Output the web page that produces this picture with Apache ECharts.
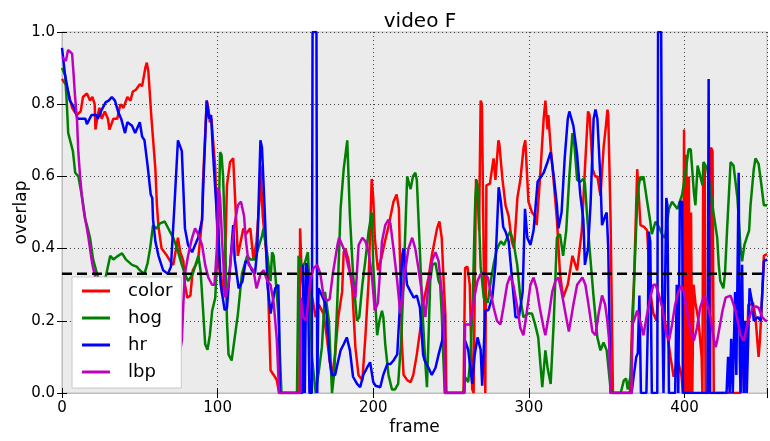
<!DOCTYPE html>
<html>
<head>
<meta charset="utf-8">
<script src="https://cdn.jsdelivr.net/npm/echarts@6/dist/echarts.min.js"></script>
<style>
html,body{margin:0;padding:0;background:#fff;overflow:hidden;}
#c{width:770px;height:441px;}
</style>
</head>
<body>
<div id="c"></div>
<script>
const seriesNames = ['color', 'hog', 'hr', 'lbp'];
const xTicks = [0, 100, 200, 300, 400];
const yTicks = [0.0, 0.2, 0.4, 0.6, 0.8, 1.0];
const threshold = 0.33;

const colorData = [[0,0.87],[3,0.85],[6.5,0.79],[9.5,0.77],[12,0.78],[13.5,0.82],[16,0.83],[18,0.81],[19.5,0.82],[21,0.80],[21.5,0.73],[23,0.77],[24,0.79],[25.5,0.76],[27.5,0.78],[29.5,0.76],[30.5,0.73],[33,0.76],[35.5,0.76],[37.5,0.80],[39.5,0.79],[42,0.82],[44,0.81],[45.5,0.835],[47.5,0.84],[50,0.855],[51.5,0.85],[53.5,0.90],[54.5,0.915],[55.5,0.89],[57.5,0.76],[60,0.62],[61,0.52],[62,0.46],[64,0.40],[67.5,0.38],[69.5,0.365],[71.5,0.355],[74.5,0.43],[76,0.39],[78,0.365],[79,0.30],[80.5,0.264],[82.5,0.27],[84,0.34],[86,0.355],[87.5,0.37],[90,0.48],[90.5,0.575],[93,0.81],[94,0.79],[95,0.75],[96,0.76],[98.5,0.62],[99.5,0.48],[101,0.35],[103,0.27],[105,0.40],[106,0.575],[108,0.64],[110,0.65],[111,0.65],[113,0.38],[116.5,0.456],[118,0.44],[121,0.456],[123,0.37],[125,0.42],[127,0.54],[127.5,0.63],[129,0.49],[132,0.355],[134,0.063],[136,0.05],[138,0.036],[139.5,0.0],[152.5,0.0],[153,0.456],[154,0.33],[156,0.25],[159,0.29],[161,0.26],[163,0.21],[165,0.245],[166,0.25],[168,0.22],[170,0.16],[172,0.09],[173.5,0.045],[175.5,0.107],[177.5,0.21],[180,0.28],[181,0.39],[182,0.40],[184,0.37],[186.5,0.29],[188.5,0.127],[190.5,0.05],[193,0.035],[195,0.16],[197,0.31],[199,0.593],[200,0.54],[201,0.43],[203,0.34],[205,0.37],[207.5,0.42],[209.5,0.456],[213,0.53],[215,0.55],[216.5,0.51],[217.5,0.31],[218.5,0.127],[219.5,0.05],[222,0.035],[224,0.03],[225.7,0.05],[228,0.107],[230,0.17],[232,0.245],[233,0.245],[235.5,0.32],[237.6,0.38],[241,0.456],[242.5,0.475],[244,0.43],[245,0.33],[246.3,0.22],[247,0.0],[258,0.0],[259,0.346],[260.5,0.35],[262,0.30],[263.6,0.01],[264.5,0.0],[266,0.593],[267,0.57],[268,0.45],[269,0.81],[269.8,0.80],[270.7,0.48],[272,0.0],[272.7,0.575],[275,0.58],[275.4,0.593],[277.3,0.65],[278.5,0.59],[279.5,0.59],[280.4,0.70],[281,0.69],[283,0.593],[285,0.52],[287,0.49],[289,0.42],[290.5,0.40],[292.6,0.54],[294.5,0.59],[296.6,0.68],[297.7,0.70],[299,0.59],[299.7,0.53],[302,0.50],[304,0.49],[305,0.465],[307,0.585],[309.5,0.76],[310.6,0.81],[312,0.73],[312.5,0.77],[314,0.68],[315.8,0.593],[318,0.48],[320,0.33],[322,0.264],[325,0.30],[328,0.38],[331,0.34],[334,0.45],[336,0.62],[338,0.78],[339,0.77],[341,0.62],[342.5,0.60],[344,0.60],[346,0.546],[348,0.68],[349.5,0.74],[350.5,0.785],[351,0.77],[352.5,0.48],[354,0.0],[365,0.0],[366.5,0.22],[367.5,0.30],[369.6,0.62],[370.5,0.615],[371.7,0.465],[374,0.46],[376,0.45],[378,0.28],[380,0.22],[382,0.2],[383,0.27],[385,0.255],[387,0.21],[389,0.16],[391,0.10],[393,0.045],[395.5,0.094],[398,0.05],[399,0.0],[399.7,0.73],[400.4,0.0],[401.2,0.66],[402,0.0],[402.8,0.6],[403.5,0.0],[404.2,0.5],[405,0.0],[405.8,0.30],[407,0.25],[409,0.2],[411,0.10],[411.5,0.0],[412,0.635],[413,0.62],[413.5,0.0],[416.5,0.0],[417,0.68],[418,0.67],[418.8,0.0],[436,0.0],[438,0.15],[439,0.0],[440,0.1],[441,0.245],[442.5,0.245],[444,0.25],[445.6,0.21],[447.6,0.10],[448.5,0.15],[450,0.28],[451,0.38],[453,0.385]];

const hogData = [[0,0.90],[2,0.88],[3,0.81],[4,0.72],[5,0.72],[7,0.67],[8.5,0.61],[10.5,0.60],[13,0.54],[15,0.48],[16,0.465],[18,0.43],[20,0.37],[22.5,0.33],[25,0.30],[28,0.32],[31,0.38],[33,0.37],[36,0.38],[38.6,0.387],[41,0.37],[45,0.355],[48,0.35],[50,0.34],[53,0.33],[55,0.36],[56.6,0.40],[58.5,0.465],[60.6,0.455],[63,0.47],[66,0.475],[69,0.45],[71.5,0.43],[74,0.40],[77,0.355],[79,0.33],[81,0.31],[84,0.33],[87.6,0.38],[89,0.34],[90.5,0.24],[92,0.135],[93.5,0.12],[95,0.16],[96.5,0.228],[98.5,0.264],[99.5,0.26],[100.5,0.45],[101.6,0.667],[102.5,0.66],[103.5,0.60],[105,0.40],[106,0.20],[107,0.107],[109,0.09],[110,0.09],[113,0.218],[115.6,0.33],[119,0.38],[121,0.37],[124,0.37],[126,0.40],[128.6,0.437],[129.5,0.456],[132,0.38],[134,0.31],[135,0.39],[136,0.38],[137,0.33],[139,0.22],[141,0.0],[151,0.0],[152,0.38],[154,0.35],[156,0.36],[158,0.39],[159,0.30],[160.6,0.10],[163,0.0],[165,0.06],[167,0.127],[169,0.28],[170,0.28],[171.5,0.20],[173.5,0.0],[175,0.06],[177,0.264],[179,0.51],[181,0.62],[183.3,0.70],[185,0.49],[187,0.33],[189.5,0.20],[191,0.21],[193,0.30],[195,0.37],[197,0.447],[199,0.50],[200,0.355],[202.5,0.16],[204,0.20],[205.6,0.228],[206.5,0.21],[207.7,0.135],[209.8,0.05],[212,0.01],[214,0.01],[216,0.025],[218,0.15],[219.5,0.31],[221.8,0.60],[223,0.58],[224,0.565],[225.5,0.60],[227,0.61],[228,0.59],[229,0.49],[230,0.39],[231.5,0.236],[233.5,0.08],[234.5,0.016],[235.5,0.15],[236.6,0.31],[238,0.355],[240,0.36],[242,0.31],[243,0.30],[244,0.22],[245,0.10],[246,0.0],[258,0.0],[259,0.044],[261,0.03],[262.5,0.10],[264,0.264],[265,0.45],[265.6,0.54],[266.5,0.59],[267.5,0.54],[269,0.35],[271,0.264],[273.6,0.25],[275.5,0.31],[277.5,0.36],[279.5,0.40],[282,0.42],[284,0.41],[286,0.43],[288,0.447],[290,0.42],[292.5,0.355],[294.5,0.264],[296.5,0.21],[299.5,0.22],[302,0.22],[304,0.19],[306,0.154],[308.6,0.016],[310.6,0.118],[312,0.07],[314,0.025],[316,0.20],[318,0.43],[320,0.44],[322,0.38],[324,0.45],[326,0.60],[328,0.72],[329,0.70],[331,0.59],[333,0.585],[335,0.593],[336,0.58],[337.6,0.48],[339,0.40],[341.6,0.264],[344,0.154],[346,0.118],[348,0.14],[350,0.118],[352.5,0.01],[354,0.0],[359,0.0],[361,0.035],[362.5,0.04],[363.5,0.01],[365.5,0.05],[366.5,0.16],[367.5,0.30],[369.6,0.53],[370.6,0.575],[371.7,0.60],[372.5,0.59],[373.6,0.60],[376,0.53],[378,0.475],[379,0.44],[381.4,0.475],[383.5,0.46],[385.8,0.437],[387.5,0.43],[390,0.51],[392,0.53],[395.5,0.51],[397,0.53],[398.5,0.55],[400.6,0.61],[402.6,0.675],[404,0.675],[406,0.557],[407,0.52],[408.4,0.63],[409.5,0.63],[411.6,0.575],[412.2,0.64],[414.7,0.62],[416.7,0.557],[418.6,0.50],[421,0.43],[422,0.355],[423,0.31],[425,0.29],[426,0.33],[427.5,0.465],[429.6,0.64],[431.5,0.63],[434,0.54],[435,0.47],[436,0.40],[437,0.365],[438.5,0.41],[440.5,0.437],[441.5,0.45],[442.4,0.52],[444.5,0.62],[445.6,0.65],[447.6,0.635],[449,0.59],[451,0.52],[453,0.52]];

const hrData = [[0,0.956],[2,0.88],[5,0.81],[8,0.79],[10,0.76],[15,0.76],[16,0.745],[19,0.77],[22,0.77],[23,0.76],[25,0.78],[28,0.805],[30,0.81],[32,0.82],[34,0.81],[36,0.78],[38,0.76],[40.5,0.72],[42,0.75],[45,0.74],[47,0.72],[50,0.75],[51.5,0.71],[53,0.70],[55,0.63],[57,0.55],[58,0.54],[58.5,0.48],[60,0.42],[62,0.38],[65,0.34],[68,0.33],[70,0.35],[72,0.50],[74.5,0.70],[77,0.67],[79,0.456],[81,0.41],[83.6,0.39],[85.5,0.41],[87.5,0.43],[90,0.48],[91,0.60],[93,0.81],[94.5,0.76],[95.8,0.77],[97,0.667],[99.7,0.48],[100.5,0.45],[102,0.30],[104.5,0.23],[106,0.236],[108,0.35],[110,0.465],[111,0.37],[113.5,0.29],[116,0.31],[118,0.365],[120,0.36],[122,0.34],[124,0.33],[125.5,0.40],[127.5,0.70],[128.5,0.68],[130.5,0.48],[132,0.30],[134,0.22],[137,0.29],[139,0.30],[139.5,0.20],[140,0.0],[154.5,0.0],[155,0.355],[156,0.0],[157,0.36],[158,0.33],[159,0.0],[160.5,0.0],[161,1.0],[163.5,1.0],[164,0.0],[164.8,0.29],[167,0.27],[169,0.25],[170,0.22],[172,0.09],[173.5,0.05],[175.5,0.05],[177,0.08],[179,0.118],[181,0.135],[183,0.154],[185,0.118],[187,0.045],[189.6,0.025],[191.6,0.016],[193.6,0.05],[196,0.07],[198,0.085],[200,0.03],[201.5,0.02],[204.5,0.016],[206.4,0.05],[209,0.08],[211,0.08],[213,0.09],[215.4,0.107],[217.4,0.264],[218.6,0.38],[219.5,0.40],[220.5,0.35],[221.7,0.30],[224,0.28],[226,0.264],[228,0.27],[230,0.236],[232,0.107],[233,0.09],[235.5,0.07],[237.6,0.05],[240,0.07],[242,0.107],[244.3,0.145],[245.7,0.218],[246.2,0.0],[258.5,0.0],[259,0.145],[261,0.12],[263.6,0.025],[265,0.10],[267,0.154],[269,0.12],[270,0.02],[272,0.228],[274,0.23],[276.5,0.264],[278.5,0.355],[280.6,0.57],[282,0.53],[283.5,0.46],[285,0.447],[287,0.42],[289.5,0.30],[291.4,0.21],[293.6,0.21],[296,0.28],[297.5,0.51],[299,0.43],[301,0.41],[303,0.45],[305.6,0.585],[309.5,0.61],[312,0.64],[314,0.667],[316,0.60],[318,0.52],[319,0.456],[321,0.50],[323,0.65],[325,0.76],[326,0.78],[328.6,0.74],[331,0.66],[333,0.55],[335,0.48],[336,0.355],[338,0.40],[339.6,0.52],[341.6,0.76],[342.8,0.785],[344,0.76],[346,0.59],[347,0.465],[349,0.49],[350,0.50],[351,0.40],[352.5,0.0],[366,0.0],[367,0.035],[369,0.10],[370,0.11],[371,0.27],[372,0.0],[375.5,0.0],[376.5,0.20],[377,0.447],[378,0.42],[379,0.0],[382.5,0.0],[383,1.0],[385,1.0],[385.8,0.21],[386.5,0.0],[387.5,0.0],[388.3,0.54],[389,0.52],[390,0.0],[394,0.0],[395,0.30],[396,0.0],[397,0.53],[398.5,0.53],[399,0.0],[414.8,0.0],[415.5,0.87],[416.2,0.0],[427,0.0],[428,0.10],[429,0.0],[430,0.15],[431,0.0],[432.5,0.28],[433.3,0.05],[434.8,0.61],[435.5,0.10],[436,0.0],[437,0.355],[438,0.0],[439,0.20],[440,0.0],[441.8,0.29],[443.7,0.245],[444.5,0.20],[447,0.21],[449,0.20],[450,0.28],[451,0.365],[453,0.37]];

const lbpData = [[0,0.93],[2.5,0.92],[3.9,0.95],[5,0.95],[6.5,0.94],[7.5,0.88],[8.4,0.82],[9.6,0.76],[10.5,0.667],[11.6,0.60],[12.9,0.54],[14.5,0.49],[16,0.456],[17,0.43],[19,0.37],[20,0.346],[21.5,0.32],[24,0.28],[28,0.22],[33,0.20],[38,0.25],[45,0.18],[52,0.22],[60,0.15],[68,0.12],[74,0.10],[76,0.12],[77,0.145],[78,0.25],[79,0.33],[81,0.38],[83.6,0.43],[85.5,0.456],[87.5,0.44],[90,0.41],[92,0.355],[94,0.32],[96.4,0.30],[98,0.30],[99.5,0.40],[100.5,0.57],[101.6,0.54],[103,0.41],[105,0.264],[107,0.30],[109,0.40],[111,0.47],[113,0.52],[115,0.53],[117,0.49],[118,0.43],[120,0.355],[123,0.34],[125,0.29],[127.6,0.33],[129.5,0.34],[132,0.31],[134,0.30],[136,0.25],[138,0.15],[139.5,0.0],[153,0.0],[153.5,0.264],[155,0.21],[157,0.20],[159.5,0.31],[161.6,0.346],[164,0.355],[166,0.33],[168,0.27],[170,0.255],[172,0.26],[174,0.33],[177,0.41],[178,0.43],[180,0.41],[182,0.39],[184,0.35],[186.5,0.31],[188.5,0.264],[190.6,0.41],[193,0.43],[195,0.42],[197,0.39],[199,0.33],[201,0.228],[203,0.25],[205.6,0.42],[207.7,0.465],[209.8,0.48],[211,0.47],[213,0.40],[215.4,0.31],[217.4,0.22],[218.5,0.22],[220.6,0.34],[222.6,0.40],[225,0.43],[227,0.40],[229,0.346],[231.5,0.27],[233.5,0.21],[235.5,0.30],[238,0.37],[240,0.39],[242,0.365],[244,0.28],[245,0.236],[246.2,0.0],[258.5,0.0],[259,0.19],[260.5,0.19],[262.4,0.19],[264.5,0.255],[267,0.31],[269,0.33],[271,0.333],[273.6,0.32],[275.4,0.28],[277.4,0.236],[279.5,0.20],[281.7,0.19],[283.6,0.236],[286,0.30],[288,0.324],[290,0.30],[292.6,0.236],[294.5,0.18],[296.5,0.16],[298.5,0.22],[301,0.30],[303,0.32],[305,0.29],[307,0.236],[309.5,0.18],[310.6,0.16],[313,0.22],[315,0.28],[317,0.31],[319,0.32],[321,0.28],[323.5,0.22],[325.7,0.17],[326.7,0.17],[328.6,0.245],[331,0.30],[334.4,0.32],[336.3,0.30],[338.3,0.245],[340.8,0.17],[342.8,0.16],[344.8,0.22],[347,0.27],[349,0.245],[350.4,0.20],[351.5,0.15],[352.5,0.0],[366,0.0],[366.5,0.19],[367.5,0.20],[369.6,0.228],[371.5,0.20],[373.6,0.16],[376,0.22],[378,0.264],[380,0.30],[381.4,0.30],[383,0.28],[385.8,0.236],[388,0.17],[390,0.145],[392,0.19],[394,0.245],[396,0.28],[398,0.297],[399.6,0.28],[401.5,0.23],[404,0.17],[406,0.145],[408,0.18],[410,0.236],[412.2,0.264],[413.5,0.264],[416.7,0.21],[418.6,0.154],[420,0.127],[421,0.145],[424.4,0.228],[426.4,0.264],[429.6,0.27],[432.8,0.228],[436,0.16],[438,0.145],[440.5,0.19],[442.4,0.218],[443.7,0.236],[446,0.24],[447.6,0.236],[450,0.21],[452,0.20],[453,0.20]];

const seriesData = [colorData, hogData, hrData, lbpData];
const seriesColors = ['#ff0000', '#008000', '#0000ff', '#bf00bf'];
const xMax = 453;

const FONT = 'DejaVu Sans';
const chart = echarts.init(document.getElementById('c'), null, {renderer: 'canvas', width: 770, height: 441});

const tickStyle = {show: true, inside: true, length: 5, lineStyle: {color: '#000', width: 1}};
const baseX = {
  type: 'value', min: 0, max: xMax, interval: 100,
  axisLine: {show: true, lineStyle: {color: '#bdbdbd', width: 1}},
  axisTick: tickStyle
};
const baseY = {
  type: 'value', min: 0, max: 1, interval: 0.2,
  axisLine: {show: true, lineStyle: {color: '#bdbdbd', width: 1}},
  axisTick: tickStyle
};

const series = seriesNames.map((n, i) => ({
  name: n, type: 'line', data: seriesData[i],
  symbol: 'none', showSymbol: false, clip: true,
  lineStyle: {color: seriesColors[i], width: 2.5},
  itemStyle: {color: seriesColors[i]},
  z: 2 + i * 0.01
}));
series.push({
  name: 'threshold', type: 'line', symbol: 'none', silent: true,
  data: [[0, threshold], [xMax, threshold]],
  lineStyle: {color: '#000', width: 2.5, type: [10, 5]},
  z: 3
});

chart.setOption({
  animation: false,
  backgroundColor: '#ffffff',
  textStyle: {fontFamily: FONT},
  title: {
    text: 'video F', left: 415, top: 7, textAlign: 'center',
    textStyle: {fontFamily: FONT, fontSize: 20, fontWeight: 'normal', color: '#000'}
  },
  grid: {
    left: 62, right: 3, top: 32, bottom: 45, show: true, containLabel: false,
    backgroundColor: '#ebebeb', borderColor: '#bdbdbd', borderWidth: 1
  },
  legend: {
    data: seriesNames, orient: 'vertical', left: 72, top: 277,
    backgroundColor: '#ffffff', borderColor: '#c8c8c8', borderWidth: 1,
    padding: [5, 9, 7, 10], itemGap: 9, itemWidth: 28, itemHeight: 3,
    icon: 'rect',
    textStyle: {fontFamily: FONT, fontSize: 18, color: '#000', padding: [0, 0, 0, 13]}
  },
  xAxis: [
    Object.assign({}, baseX, {
      position: 'bottom',
      name: 'frame', nameLocation: 'middle', nameGap: 26, nameMoveOverlap: false,
      nameTextStyle: {fontFamily: FONT, fontSize: 17, color: '#000'},
      axisLabel: {fontFamily: FONT, fontSize: 15, color: '#000', margin: 8,
        formatter: v => (xTicks.indexOf(v) >= 0 ? String(v) : '')},
      splitLine: {show: true, lineStyle: {color: '#444', width: 1, type: [1, 3]}}
    }),
    Object.assign({}, baseX, {
      position: 'top', axisLabel: {show: false}, splitLine: {show: false}
    })
  ],
  yAxis: [
    Object.assign({}, baseY, {
      position: 'left',
      name: 'overlap', nameLocation: 'middle', nameGap: 32, nameMoveOverlap: false,
      nameTextStyle: {fontFamily: FONT, fontSize: 17, color: '#000'},
      axisLabel: {fontFamily: FONT, fontSize: 15, color: '#000', margin: 7,
        formatter: v => (yTicks.some(t => Math.abs(t - v) < 1e-9) ? v.toFixed(1) : '')},
      splitLine: {show: true, lineStyle: {color: '#444', width: 1, type: [1, 3]}}
    }),
    Object.assign({}, baseY, {
      position: 'right', axisLabel: {show: false}, splitLine: {show: false}
    })
  ],
  series: series
});
</script>
</body>
</html>
